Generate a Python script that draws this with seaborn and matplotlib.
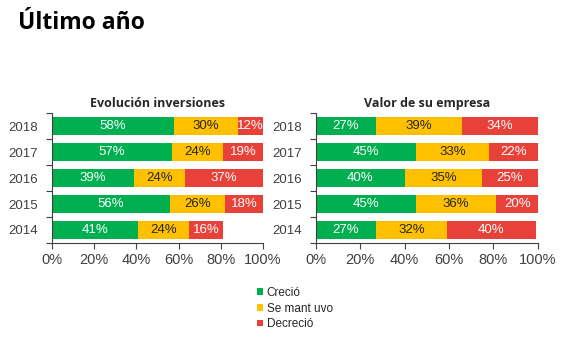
import matplotlib
matplotlib.use("Agg")
import matplotlib.pyplot as plt
from matplotlib.patches import Patch
from matplotlib.ticker import FixedLocator, PercentFormatter
import seaborn as sns
import pandas as pd
import numpy as np

years = ["2018", "2017", "2016", "2015", "2014"]
series = ["Creció", "Se mant uvo", "Decreció"]

# Evolución inversiones
inv_crecio = [58, 57, 39, 56, 41]
inv_mantuvo = [30, 24, 24, 26, 24]
inv_decrecio = [12, 19, 37, 18, 16]

# Valor de su empresa
val_crecio = [27, 45, 40, 45, 27]
val_mantuvo = [39, 33, 35, 36, 32]
val_decrecio = [34, 22, 25, 20, 40]

colors = ["#00B050", "#FFC000", "#E8413A"]
text_colors = ["white", "#262626", "white"]

sns.set_style("white")
plt.rcParams["font.family"] = ["Liberation Sans", "DejaVu Sans"]

fig = plt.figure(figsize=(5.7, 3.42), dpi=100)
fig.text(0.031, 0.915, "Último año", fontsize=16.5, fontweight="bold",
         family=["Open Sans", "DejaVu Sans"], color="black")

ax1 = fig.add_axes([0.0912, 0.2895, 0.370, 0.380])
ax2 = fig.add_axes([0.5544, 0.2895, 0.389, 0.380])


def stacked(ax, title, vals):
    df = pd.DataFrame({"year": years,
                       series[0]: vals[0],
                       series[1]: vals[1],
                       series[2]: vals[2]})
    cum = df[series].cumsum(axis=1)
    # Draw the cumulative totals from the longest down so each segment shows
    for i in range(2, -1, -1):
        sns.barplot(data=cum, x=series[i], y=df["year"], order=years,
                    orient="h", color=colors[i], saturation=1, width=0.68,
                    linewidth=0, ax=ax)
    for i in range(3):
        for j, y in enumerate(years):
            v = df[series[i]].iloc[j]
            c = cum[series[i]].iloc[j]
            ax.text(c - v / 2, j, f"{v}%", ha="center", va="center",
                    color=text_colors[i], fontsize=9.5)
    ax.set_xlim(0, 100)
    ax.set_ylim(4.5, -0.5)
    ax.set_xlabel("")
    ax.set_ylabel("")
    ax.set_title(title, fontsize=9, fontweight="bold",
                 family=["Open Sans", "DejaVu Sans"], pad=4)
    ax.xaxis.set_major_locator(FixedLocator([0, 20, 40, 60, 80, 100]))
    ax.xaxis.set_major_formatter(PercentFormatter(decimals=0))
    ax.yaxis.set_minor_locator(FixedLocator(np.arange(-0.5, 5, 1)))
    ax.tick_params(axis="y", which="major", length=0, pad=10,
                   labelsize=9.5, labelcolor="#404040")
    ax.tick_params(axis="y", which="minor", length=4, width=0.8,
                   color="#404040", direction="out", left=True)
    ax.tick_params(axis="x", which="major", length=4, width=0.8,
                   color="#404040", direction="out", bottom=True,
                   labelsize=10.5, labelcolor="#404040", pad=3)
    for s in ["top", "right"]:
        ax.spines[s].set_visible(False)
    for s in ["left", "bottom"]:
        ax.spines[s].set_color("#404040")
        ax.spines[s].set_linewidth(0.8)


stacked(ax1, "Evolución inversiones", [inv_crecio, inv_mantuvo, inv_decrecio])
stacked(ax2, "Valor de su empresa", [val_crecio, val_mantuvo, val_decrecio])

handles = [Patch(facecolor=c, edgecolor="none", label=s)
           for c, s in zip(colors, series)]
fig.legend(handles=handles, loc="upper left", bbox_to_anchor=(0.440, 0.178),
           frameon=False, fontsize=8.5, handlelength=0.5, handleheight=0.5,
           handletextpad=0.35, labelspacing=0.3, borderpad=0,
           labelcolor="#262626")

fig.savefig("out.png", dpi=100)
